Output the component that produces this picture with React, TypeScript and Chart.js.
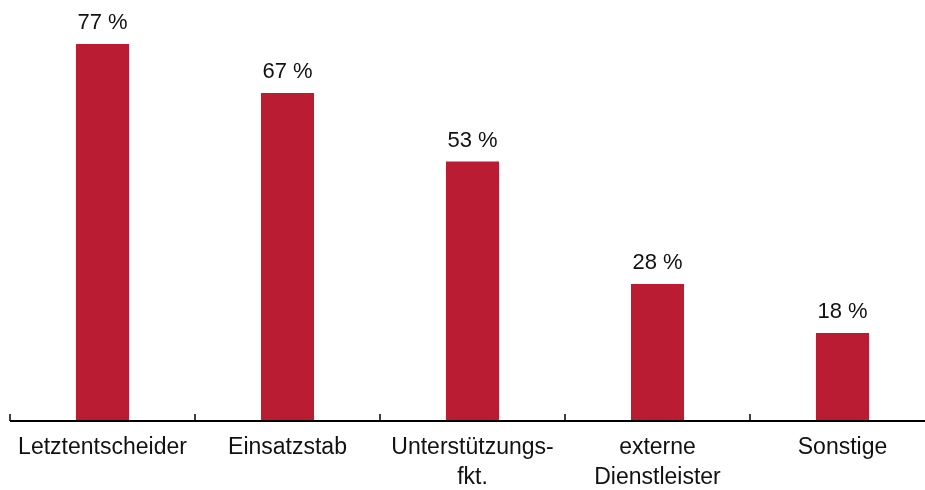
import React, { useEffect, useRef } from "react";
import { Chart, registerables } from "chart.js";

Chart.register(...registerables);

const categories: (string | string[])[] = [
  "Letztentscheider",
  "Einsatzstab",
  ["Unterstützungs-", "fkt."],
  ["externe", "Dienstleister"],
  "Sonstige",
];
const values: number[] = [77, 67, 53, 28, 18];
const valueLabels: string[] = ["77 %", "67 %", "53 %", "28 %", "18 %"];

const BAR_COLOR = "#b91c33";
const TEXT_COLOR = "#111111";
const FONT_FAMILY = "'Liberation Sans', Arial, Helvetica, sans-serif";

const decorPlugin = {
  id: "decor",
  afterDatasetsDraw(chart: any) {
    const { ctx, chartArea } = chart;
    const xs = chart.scales.x;
    const meta = chart.getDatasetMeta(0);
    ctx.save();
    // axis line
    ctx.strokeStyle = "#000";
    ctx.lineWidth = 2;
    ctx.beginPath();
    ctx.moveTo(chartArea.left, chartArea.bottom);
    ctx.lineTo(chartArea.right, chartArea.bottom);
    ctx.stroke();
    // tick marks at category boundaries
    ctx.lineWidth = 1.5;
    const n = categories.length;
    const step = n > 1 ? xs.getPixelForValue(1) - xs.getPixelForValue(0) : chartArea.width;
    for (let i = 0; i <= n; i++) {
      const x = xs.getPixelForValue(0) - step / 2 + i * step;
      ctx.beginPath();
      ctx.moveTo(x, chartArea.bottom);
      ctx.lineTo(x, chartArea.bottom - 7);
      ctx.stroke();
    }
    // value labels
    ctx.fillStyle = TEXT_COLOR;
    ctx.font = `22px ${FONT_FAMILY}`;
    ctx.textAlign = "center";
    ctx.textBaseline = "alphabetic";
    meta.data.forEach((bar: any, i: number) => {
      ctx.fillText(valueLabels[i], bar.x, bar.y - 15);
    });
    ctx.restore();
  },
};

export default function App() {
  const canvasRef = useRef<HTMLCanvasElement | null>(null);

  useEffect(() => {
    if (!canvasRef.current) return;
    const chart = new Chart(canvasRef.current, {
      type: "bar",
      data: {
        labels: categories as any,
        datasets: [
          {
            data: values,
            backgroundColor: BAR_COLOR,
            borderWidth: 0,
            categoryPercentage: 1,
            barPercentage: 0.287,
          },
        ],
      },
      options: {
        animation: false,
        responsive: false,
        maintainAspectRatio: false,
        layout: { padding: { left: 10, right: 10, top: 0, bottom: 0 } },
        plugins: {
          legend: { display: false },
          tooltip: { enabled: false },
          title: { display: false },
        },
        scales: {
          x: {
            grid: { display: false, drawTicks: false },
            border: { display: false },
            ticks: {
              color: TEXT_COLOR,
              padding: 12,
              maxRotation: 0,
              autoSkip: false,
              font: { family: FONT_FAMILY, size: 23, lineHeight: 1.3 },
            },
            afterFit: (scale: any) => {
              scale.height = 69;
            },
          },
          y: { display: false, min: 0, max: 86 },
        },
      },
      plugins: [decorPlugin],
    });
    return () => chart.destroy();
  }, []);

  return (
    <div
      style={{
        position: "absolute",
        left: 0,
        top: 0,
        width: 925,
        height: 490,
        overflow: "hidden",
        background: "#fff",
      }}
    >
      <canvas ref={canvasRef} width={945} height={490} style={{ width: 945, height: 490, display: "block" }} />
    </div>
  );
}
